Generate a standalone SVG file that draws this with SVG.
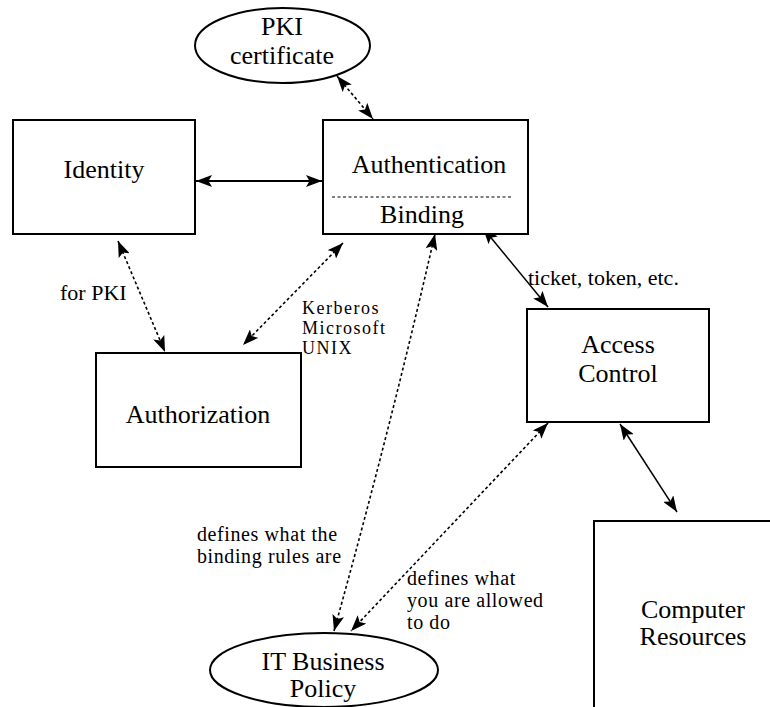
<svg xmlns="http://www.w3.org/2000/svg" width="770" height="707" viewBox="0 0 770 707">
  <style>
    .shape { fill: #fff; stroke: #000; stroke-width: 2; }
    .label { font-family: "Liberation Serif", "Times New Roman", serif; font-size: 26px; fill: #000; text-anchor: middle; }
    .note { font-family: "Liberation Serif", "Times New Roman", serif; font-size: 22px; fill: #000; }
    .note-sm { font-family: "Liberation Serif", "Times New Roman", serif; font-size: 20px; letter-spacing: 0.6px; fill: #000; }
    .note-xs { font-family: "Liberation Serif", "Times New Roman", serif; font-size: 18px; letter-spacing: 1.5px; fill: #000; }
    .solid { fill: none; stroke: #000; stroke-width: 1.5; marker-start: url(#head); marker-end: url(#head); }
    .dotted { fill: none; stroke: #000; stroke-width: 1.6; stroke-dasharray: 3 2.5; marker-start: url(#head); marker-end: url(#head); }
    .sep { stroke: #000; stroke-width: 1.2; stroke-dasharray: 3 2.5; }
  </style>
  <defs>
    <marker id="head" viewBox="0 0 16 12" refX="16" refY="6" markerWidth="16" markerHeight="12" markerUnits="userSpaceOnUse" orient="auto-start-reverse">
      <path d="M0,0 L16,6 L0,12 L3.5,6 Z" fill="#000"/>
    </marker>
  </defs>
  <rect width="770" height="707" fill="#fff"/>

  <!-- connectors -->
  <g id="connectors">
    <path class="dotted" d="M337,76 L373,119"/>
    <path class="solid" style="stroke-width:2" d="M196,181 L322,181"/>
    <path class="dotted" d="M118,241 L165,352"/>
    <path class="dotted" d="M343,243 L243,345"/>
    <path class="dotted" d="M435,234 Q390,430 334,631"/>
    <path class="dotted" d="M548,423 L351,631"/>
    <path class="solid" d="M483,228 L548,307"/>
    <path class="solid" d="M620,424 L677,512"/>
  </g>

  <!-- connector labels -->
  <g id="edge-labels">
    <text class="note" x="60" y="300">for PKI</text>
    <text class="note-xs" x="302" y="314">Kerberos</text>
    <text class="note-xs" x="302" y="334">Microsoft</text>
    <text class="note-xs" x="302" y="354">UNIX</text>
    <text class="note" x="528" y="285">ticket, token, etc.</text>
    <text class="note-sm" x="197" y="541">defines what the</text>
    <text class="note-sm" x="197" y="563">binding rules are</text>
    <text class="note-sm" x="407" y="585">defines what</text>
    <text class="note-sm" x="407" y="607">you are allowed</text>
    <text class="note-sm" x="407" y="629">to do</text>
  </g>

  <g id="pki-certificate">
    <ellipse class="shape" cx="282.5" cy="45.5" rx="87.5" ry="37.5"/>
    <text class="label" x="282" y="35">PKI</text>
    <text class="label" x="282" y="64">certificate</text>
  </g>

  <g id="identity">
    <rect class="shape" x="13" y="120" width="182" height="114"/>
    <text class="label" x="104" y="178">Identity</text>
  </g>

  <g id="authentication">
    <rect class="shape" x="323" y="120" width="205" height="114"/>
    <text class="label" x="429" y="173">Authentication</text>
    <line class="sep" x1="332" y1="197" x2="512" y2="197"/>
    <text class="label" x="422" y="223">Binding</text>
  </g>

  <g id="authorization">
    <rect class="shape" x="96" y="353" width="205" height="114"/>
    <text class="label" x="198" y="423">Authorization</text>
  </g>

  <g id="access-control">
    <rect class="shape" x="527" y="309" width="182" height="113"/>
    <text class="label" x="618" y="353">Access</text>
    <text class="label" x="618" y="382">Control</text>
  </g>

  <g id="computer-resources">
    <rect class="shape" x="594" y="521" width="200" height="200"/>
    <text class="label" x="693" y="618">Computer</text>
    <text class="label" x="693" y="645">Resources</text>
  </g>

  <g id="it-business-policy">
    <ellipse class="shape" cx="324" cy="670" rx="114" ry="37"/>
    <text class="label" x="323" y="670">IT Business</text>
    <text class="label" x="323" y="697">Policy</text>
  </g>
</svg>
